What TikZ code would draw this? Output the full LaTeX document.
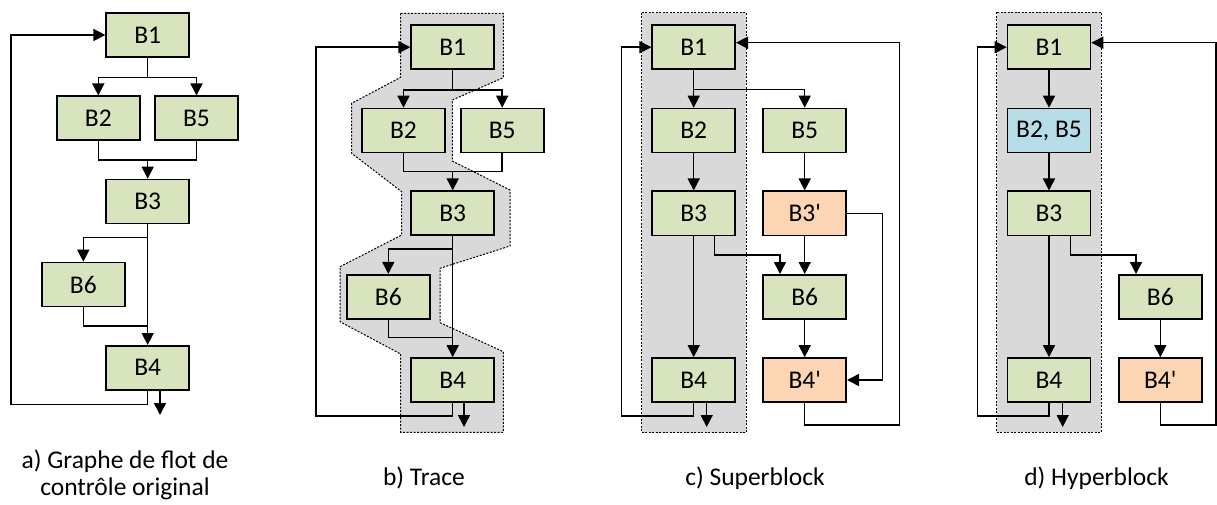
\documentclass[tikz,border=0pt]{standalone}
\usepackage{fontspec}
\setmainfont{Carlito}
\usetikzlibrary{arrows.meta,calc}
\definecolor{blkgreen}{HTML}{D7E4BD}
\definecolor{blkorange}{HTML}{FCD5B5}
\definecolor{blkblue}{HTML}{B7DEE8}
\definecolor{regiongray}{HTML}{D9D9D9}
\tikzset{
  blk/.style={draw, line width=1.6pt, fill=blkgreen, minimum width=83pt, minimum height=44pt, inner sep=0pt},
  dup/.style={blk, fill=blkorange},
  merged/.style={blk, fill=blkblue},
  wire/.style={line width=1.5pt},
  flow/.style={wire, -{Triangle[length=12pt,width=12pt]}},
  region/.style={fill=regiongray, draw, line width=1pt, dash pattern=on 2pt off 1.5pt},
  caption/.style={align=center, anchor=base}
}
\begin{document}
\begin{tikzpicture}[x=1pt, y=-1pt, every node/.style={font=\fontsize{25.5}{27}\selectfont}]
\useasboundingbox (0,0) rectangle (1217,505);

\draw[region] (400.7,13.3) -- (503.3,13.3) -- (503.3,77.7) -- (452.3,100) -- (452.3,161) -- (510,190) -- (510,246)
  -- (440,268.3) -- (440,322.7) -- (503.3,351.7) -- (503.3,432.3) -- (400.7,432.3) -- (400.7,354) -- (340,321.7)
  -- (340,266.7) -- (401.7,235) -- (401.7,191.7) -- (351.7,153.3) -- (351.7,103.3) -- (400.7,77.3) -- cycle;
\draw[region] (641.7,12.7) rectangle (746,432.7);
\draw[region] (996.7,12.3) rectangle (1101.3,432.3);

% a) graphe original
\foreach \n/\x/\y/\t in {a1/147.7/35/B1, a2/98.3/118.3/B2, a5/196.5/118.3/B5, a3/147.7/201.5/B3, a6/83.3/284.5/B6, a4/147.7/367.8/B4}
  \node[blk] (\n) at (\x,\y) {\t};
\coordinate (a1s) at (147.7,77.7);
\coordinate (a3n) at (147.7,160);
\coordinate (a3s) at (147.7,237.3);
\coordinate (a4n) at (147.7,326);
\coordinate (aloop) at (11,404.3);
\coordinate (aexit) at (160,415);
\draw[wire] (a1) -- (a1s);
\draw[flow] (a1s) -| (a2);
\draw[flow] (a1s) -| (a5);
\draw[wire] (a2) |- (a3n);
\draw[wire] (a5) |- (a3n);
\draw[flow] (a3n) -- (a3);
\draw[flow] (a3) -- (a4);
\draw[flow] (a3s) -| (a6);
\draw[wire] (a6) |- (a4n);
\draw[flow] (a4) |- (aloop) |- (a1);
\draw[flow] (a4.south -| aexit) -- (aexit);
\node[caption] (capa) at (125,495) {a) Graphe de flot de\\contrôle original};

% b) trace
\foreach \n/\x/\y/\t in {b1/452.7/47.2/B1, b2/403.5/130.5/B2, b5/502.2/130.5/B5, b3/452.7/213.2/B3, b6/388.3/296.7/B6, b4/452.7/380/B4}
  \node[blk] (\n) at (\x,\y) {\t};
\coordinate (b1s) at (452.7,90);
\coordinate (b3n) at (452.7,171.7);
\coordinate (b3s) at (452.7,249);
\coordinate (b4n) at (452.7,337.7);
\coordinate (bloop) at (316,416);
\coordinate (bexit) at (464,427);
\draw[wire] (b1) -- (b1s);
\draw[flow] (b1s) -| (b2);
\draw[flow] (b1s) -| (b5);
\draw[wire] (b2) |- (b3n);
\draw[wire] (b5) |- (b3n);
\draw[flow] (b3n) -- (b3);
\draw[flow] (b3) -- (b4);
\draw[flow] (b3s) -| (b6);
\draw[wire] (b6) |- (b4n);
\draw[flow] (b4) |- (bloop) |- (b1);
\draw[flow] (b4.south -| bexit) -- (bexit);
\node[caption] (capb) at (424,485.7) {b) Trace};

% c) superblock
\foreach \n/\x/\y/\t in {c1/693.7/47.2/B1, c2/693.7/130.5/B2, c3/693.7/213.3/B3, c4/693.7/380/B4, c5/804.7/130.5/B5, c6/804.7/296.8/B6}
  \node[blk] (\n) at (\x,\y) {\t};
\node[dup] (c3p) at (804.7,213.3) {B3\textquotesingle};
\node[dup] (c4p) at (804.7,380) {B4\textquotesingle};
\coordinate (c1s) at (693.7,89.3);
\coordinate (c3b) at (714.3,255);
\coordinate (c6in) at (780,255);
\coordinate (cside) at (882.7,380);
\coordinate (cback) at (899.3,425);
\coordinate (cloop) at (621.7,416);
\coordinate (cexit) at (706.7,427);
\draw[flow] (c1) -- (c2);
\draw[flow] (c1s) -| (c5);
\draw[flow] (c2) -- (c3);
\draw[flow] (c5) -- (c3p);
\draw[flow] (c3) -- (c4);
\draw[flow] (c3p) -- (c6);
\draw[flow] (c6) -- (c4p);
\draw[flow] (c3.south -| c3b) |- (c6in) -- (c6in |- c6.north);
\draw[flow] (c3p) -| (cside) -- (c4p);
\draw[flow] (c4p) |- (cback) |- ($(c1.east)+(0,-4.5)$);
\draw[flow] (c4) |- (cloop) |- (c1);
\draw[flow] (c4.south -| cexit) -- (cexit);
\node[caption] (capc) at (755,485.7) {c) Superblock};

% d) hyperblock
\foreach \n/\x/\y/\t in {d1/1049/47.2/B1, d3/1049/213.3/B3, d4/1049/380/B4, d6/1160.3/296.8/B6}
  \node[blk] (\n) at (\x,\y) {\t};
\node[merged] (d25) at (1049,130.5) {B2, B5};
\node[dup] (d4p) at (1160.3,380) {B4\textquotesingle};
\coordinate (d3b) at (1070.3,255);
\coordinate (d6in) at (1136,255);
\coordinate (dback) at (1216,425);
\coordinate (dloop) at (977.3,416);
\coordinate (dexit) at (1062.7,427);
\draw[flow] (d1) -- (d25);
\draw[flow] (d25) -- (d3);
\draw[flow] (d3) -- (d4);
\draw[flow] (d6) -- (d4p);
\draw[flow] (d3.south -| d3b) |- (d6in) -- (d6in |- d6.north);
\draw[flow] (d4p) |- (dback) |- ($(d1.east)+(0,-4.5)$);
\draw[flow] (d4) |- (dloop) |- (d1);
\draw[flow] (d4.south -| dexit) -- (dexit);
\node[caption] (capd) at (1096.5,485.7) {d) Hyperblock};
\end{tikzpicture}
\end{document}
